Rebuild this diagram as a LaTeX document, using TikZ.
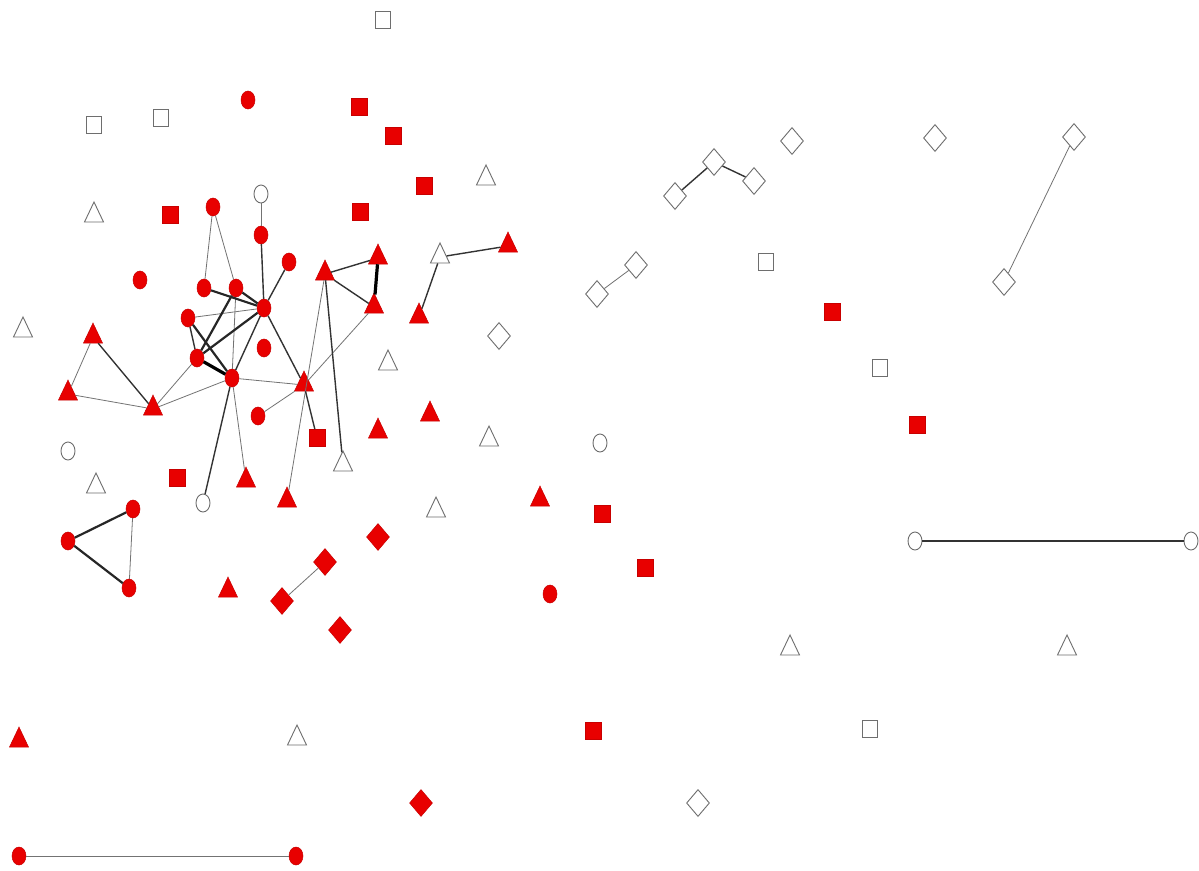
\documentclass[tikz,border=0pt]{standalone}
\usetikzlibrary{shapes.geometric}
\definecolor{nr}{RGB}{232,0,0}
\definecolor{nro}{RGB}{200,0,0}
\definecolor{hol}{RGB}{110,110,110}
\begin{document}
\begin{tikzpicture}[x=1pt,y=-1pt,
  rc/.style={ellipse,minimum width=14pt,minimum height=18pt,inner sep=0pt,fill=nr,draw=nro,line width=0.5pt},
  wc/.style={ellipse,minimum width=14pt,minimum height=18pt,inner sep=0pt,fill=white,draw=hol,line width=0.9pt},
  rt/.style={isosceles triangle,isosceles triangle stretches,shape border rotate=90,minimum width=19pt,minimum height=20pt,inner sep=0pt,yshift=-4pt,fill=nr,draw=nro,line width=0.5pt},
  wt/.style={isosceles triangle,isosceles triangle stretches,shape border rotate=90,minimum width=19pt,minimum height=20pt,inner sep=0pt,yshift=-4pt,fill=white,draw=hol,line width=0.9pt},
  rs/.style={rectangle,minimum width=16pt,minimum height=17pt,inner sep=0pt,fill=nr,draw=nro,line width=0.5pt},
  ws/.style={rectangle,minimum width=15pt,minimum height=17pt,inner sep=0pt,fill=white,draw=hol,line width=0.9pt},
  rd/.style={diamond,minimum width=23pt,minimum height=27pt,inner sep=0pt,fill=nr,draw=nro,line width=0.5pt},
  wd/.style={diamond,minimum width=23pt,minimum height=27pt,inner sep=0pt,fill=white,draw=hol,line width=0.9pt},
  ethin/.style={draw=black!55,line width=0.8pt},
  emed/.style={draw=black!80,line width=1.4pt},
  ethick/.style={draw=black!85,line width=2.2pt},
  evthick/.style={draw=black,line width=3.2pt}
]
\useasboundingbox[fill=white] (0,0) rectangle (1199,870);
% red circles
\node[rc] (c1) at (248,100) {};
\node[rc] (c2) at (213,207) {};
\node[rc] (c3) at (261,235) {};
\node[rc] (c4) at (289,262) {};
\node[rc] (c5) at (140,280) {};
\node[rc] (c6) at (204,288) {};
\node[rc] (c7) at (236,288) {};
\node[rc] (c8) at (264,308) {};
\node[rc] (c9) at (188,318) {};
\node[rc] (c10) at (197,358) {};
\node[rc] (c11) at (264,348) {};
\node[rc] (c12) at (232,378) {};
\node[rc] (c13) at (258,416) {};
\node[rc] (c14) at (133,509) {};
\node[rc] (c15) at (68,541) {};
\node[rc] (c16) at (129,588) {};
\node[rc] (c17) at (550,594) {};
\node[rc] (c18) at (19,856) {};
\node[rc] (c19) at (296,856) {};
% white circles
\node[wc] (w1) at (261,194) {};
\node[wc] (w2) at (68,451) {};
\node[wc] (w3) at (203,503) {};
\node[wc] (w4) at (600,443) {};
\node[wc] (w5) at (915,541) {};
\node[wc] (w6) at (1191,541) {};
% red triangles
\node[rt] (t1) at (93,333) {};
\node[rt] (t2) at (68,390) {};
\node[rt] (t3) at (153,405) {};
\node[rt] (t4) at (304,381) {};
\node[rt] (t5) at (325,270) {};
\node[rt] (t6) at (378,254) {};
\node[rt] (t7) at (374,303) {};
\node[rt] (t8) at (419,313) {};
\node[rt] (t9) at (508,242) {};
\node[rt] (t10) at (378,428) {};
\node[rt] (t11) at (430,411) {};
\node[rt] (t12) at (246,477) {};
\node[rt] (t13) at (287,497) {};
\node[rt] (t14) at (540,496) {};
\node[rt] (t15) at (228,587) {};
\node[rt] (t16) at (19,737) {};
% white triangles
\node[wt] (u1) at (94,212) {};
\node[wt] (u2) at (23,327) {};
\node[wt] (u3) at (486,175) {};
\node[wt] (u4) at (440,253) {};
\node[wt] (u5) at (388,360) {};
\node[wt] (u6) at (489,436) {};
\node[wt] (u7) at (343,461) {};
\node[wt] (u8) at (96,483) {};
\node[wt] (u9) at (436,507) {};
\node[wt] (u10) at (790,645) {};
\node[wt] (u11) at (1067,645) {};
\node[wt] (u12) at (297,735) {};
% red squares
\node[rs] (s1) at (359,107) {};
\node[rs] (s2) at (393,136) {};
\node[rs] (s3) at (424,186) {};
\node[rs] (s4) at (360,212) {};
\node[rs] (s5) at (170,215) {};
\node[rs] (s6) at (317,438) {};
\node[rs] (s7) at (177,478) {};
\node[rs] (s8) at (602,514) {};
\node[rs] (s9) at (645,568) {};
\node[rs] (s10) at (832,312) {};
\node[rs] (s11) at (917,425) {};
\node[rs] (s12) at (593,731) {};
% white squares
\node[ws] (q1) at (383,20) {};
\node[ws] (q2) at (94,125) {};
\node[ws] (q3) at (161,118) {};
\node[ws] (q4) at (766,262) {};
\node[ws] (q5) at (880,368) {};
\node[ws] (q6) at (870,729) {};
% red diamonds
\node[rd] (d1) at (378,537) {};
\node[rd] (d2) at (325,562) {};
\node[rd] (d3) at (282,601) {};
\node[rd] (d4) at (340,630) {};
\node[rd] (d5) at (421,803) {};
% white diamonds
\node[wd] (e1) at (792,141) {};
\node[wd] (e2) at (935,138) {};
\node[wd] (e3) at (1074,137) {};
\node[wd] (e4) at (714,162) {};
\node[wd] (e5) at (754,181) {};
\node[wd] (e6) at (675,196) {};
\node[wd] (e7) at (636,265) {};
\node[wd] (e8) at (597,294) {};
\node[wd] (e9) at (499,336) {};
\node[wd] (e10) at (1004,282) {};
\node[wd] (e11) at (698,803) {};
% edges
\foreach \a/\b in {w1/c3,c2/c6,c2/c7,c7/c12,c9/c8,c12/t4,c10/t3,c12/t3,t1/t2,t2/t3,c12/t12,c13/t4,t4/t7,t5/t13,c14/c16,d2/d3,e7/e8,e10/e3,c18/c19}
  \path[ethin] (\a) -- (\b);
\foreach \a/\b in {c3/c8,c4/c8,c8/c12,c8/t4,c9/c10,t1/t3,c12/w3,t4/s6,t5/u7,t5/t6,t5/t7,u4/t9,u4/t8,e6/e4,e4/e5,w5/w6}
  \path[emed] (\a) -- (\b);
\foreach \a/\b in {c6/c8,c7/c8,c7/c10,c10/c8,c9/c12,c14/c15,c15/c16}
  \path[ethick] (\a) -- (\b);
\foreach \a/\b in {c10/c12,t6/t7}
  \path[evthick] (\a) -- (\b);
\end{tikzpicture}
\end{document}
